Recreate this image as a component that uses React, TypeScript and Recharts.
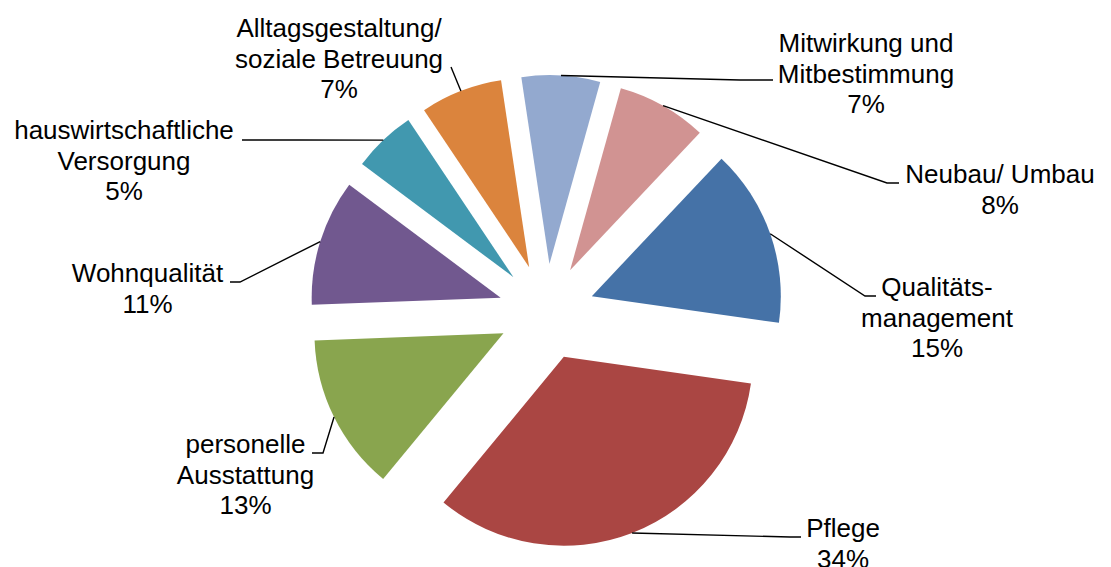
import React from 'react';
import { PieChart, Pie, Sector } from 'recharts';

// ---- data ----
const CATEGORIES = [
  'Mitwirkung und Mitbestimmung',
  'Neubau/ Umbau',
  'Qualitätsmanagement',
  'Pflege',
  'personelle Ausstattung',
  'Wohnqualität',
  'hauswirtschaftliche Versorgung',
  'Alltagsgestaltung/ soziale Betreuung',
];
const LABEL_LINES = [
  ['Mitwirkung und', 'Mitbestimmung'],
  ['Neubau/ Umbau'],
  ['Qualitäts-', 'management'],
  ['Pflege'],
  ['personelle', 'Ausstattung'],
  ['Wohnqualität'],
  ['hauswirtschaftliche', 'Versorgung'],
  ['Alltagsgestaltung/', 'soziale Betreuung'],
];
const VALUES = [6.7, 7.7, 15.2, 33.7, 13.4, 10.8, 5.4, 7.0];
const COLORS = ['#93A9CF', '#D19392', '#4572A7', '#AA4643', '#89A54E', '#71588F', '#4198AF', '#DB843D'];

const data = CATEGORIES.map((name, i) => ({ name, value: VALUES[i], color: COLORS[i], lines: LABEL_LINES[i] }));

// ---- layout (offsets from pie centre) ----
const EXPLODE = 48;
const LINE_H = 30.5;
const LABEL_LAYOUT = [
  { ex: 193.5, ey: -232, hx: 226.5, tx: 319.5, ty: -260 },
  { ex: 340.5, ey: -129, hx: 352.5, tx: 453.5, ty: -129 },
  { ex: 318.5, ey: -16, hx: 329.5, tx: 390.5, ty: -16 },
  { ex: 243.5, ey: 225, hx: 254.5, tx: 296.5, ty: 225 },
  { ex: -223.5, ey: 141, hx: -234.5, tx: -301, ty: 141 },
  { ex: -306.5, ey: -30, hx: -316.5, tx: -399, ty: -30 },
  { ex: -246.5, ey: -172, hx: -304.5, tx: -422.5, ty: -173 },
  { ex: -95.5, ey: -245, hx: -95.5, tx: -207.5, ty: -275 },
];

const RAD = Math.PI / 180;
const polar = (cx: number, cy: number, r: number, a: number) => ({
  x: cx + r * Math.cos(-a * RAD),
  y: cy + r * Math.sin(-a * RAD),
});

const renderSlice = (props: any) => {
  const { cx, cy, outerRadius, startAngle, endAngle, midAngle, percent, index, payload } = props;
  const item = payload && payload.payload ? payload.payload : payload;
  const color = (item && item.color) || COLORS[index];
  const lines: string[] = (item && item.lines) || LABEL_LINES[index];
  const c = polar(cx, cy, EXPLODE, midAngle);
  const arcPt = polar(c.x, c.y, outerRadius, midAngle);
  const L = LABEL_LAYOUT[index];
  const pts = `${arcPt.x},${arcPt.y} ${cx + L.ex},${cy + L.ey} ${cx + L.hx},${cy + L.ey}`;
  const tx = cx + L.tx;
  const all = [...lines, `${Math.round(percent * 100)}%`];
  return (
    <g key={`slice-${index}`}>
      <Sector
        cx={c.x}
        cy={c.y}
        innerRadius={0}
        outerRadius={outerRadius}
        startAngle={startAngle}
        endAngle={endAngle}
        fill={color}
        stroke="none"
      />
      <polyline points={pts} fill="none" stroke="#000" strokeWidth={1.4} />
      <text
        x={tx}
        y={cy + L.ty}
        textAnchor="middle"
        fontSize={26}
        fontFamily="'Liberation Sans', Arial, Helvetica, sans-serif"
        fill="#000"
      >
        {all.map((t, i) => (
          <tspan key={i} x={tx} dy={i === 0 ? 0 : LINE_H}>
            {t}
          </tspan>
        ))}
      </text>
    </g>
  );
};

export default function App() {
  return (
    <div style={{ position: 'absolute', left: 0, top: 0, width: 1111, height: 567, background: '#fff' }}>
      <PieChart width={1111} height={567} margin={{ top: 0, right: 0, bottom: 0, left: 0 }}>
        <Pie
          data={data}
          dataKey="value"
          nameKey="name"
          cx={546.5}
          cy={312}
          innerRadius={0}
          outerRadius={189}
          startAngle={98.56}
          endAngle={-261.44}
          fill="none"
          stroke="none"
          label={renderSlice}
          labelLine={false}
          isAnimationActive={false}
        />
      </PieChart>
    </div>
  );
}
